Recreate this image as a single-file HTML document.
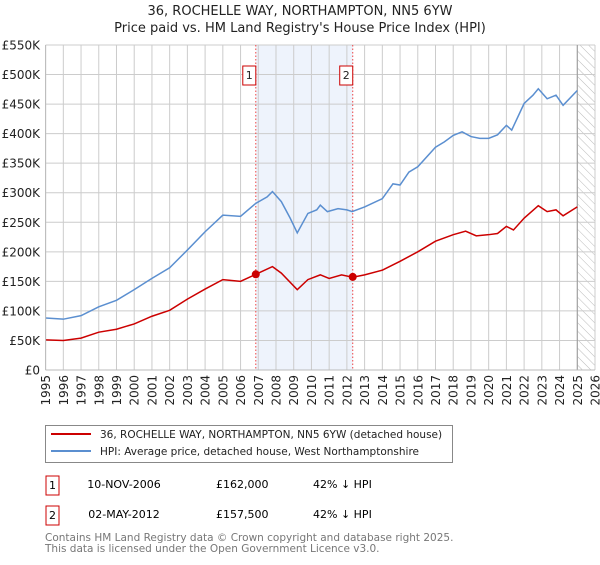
<!DOCTYPE html>
<html><head><meta charset="utf-8"><style>
body{margin:0;background:#fff;font-family:"Liberation Sans","DejaVu Sans",sans-serif}
svg text{font-family:"DejaVu Sans","Liberation Sans",sans-serif}
</style></head><body>
<svg id="chart" width="600" height="560" viewBox="0 0 600 560" xmlns="http://www.w3.org/2000/svg">
<defs><pattern id="hatch" width="6" height="6" patternUnits="userSpaceOnUse" patternTransform="rotate(-45)"><line x1="0" y1="0" x2="0" y2="6" stroke="#bbb" stroke-width="1"/></pattern></defs>
<text x="300" y="15" text-anchor="middle" font-size="13" fill="#222">36, ROCHELLE WAY, NORTHAMPTON, NN5 6YW</text>
<text x="300" y="32" text-anchor="middle" font-size="13" fill="#222">Price paid vs. HM Land Registry's House Price Index (HPI)</text>
<g id="grid"></g><g id="marks"></g><g id="axes"></g>
<g>
<rect x="45.5" y="425.5" width="407" height="37" fill="#fff" stroke="#888"/>
<line x1="51" y1="434" x2="91" y2="434" stroke="#cc0000" stroke-width="2"/>
<text x="100" y="438" font-size="10.5" fill="#222">36, ROCHELLE WAY, NORTHAMPTON, NN5 6YW (detached house)</text>
<line x1="51" y1="451" x2="91" y2="451" stroke="#5b8fd0" stroke-width="2"/>
<text x="100" y="455" font-size="10.5" fill="#222">HPI: Average price, detached house, West Northamptonshire</text>
</g>
<g>
<rect x="46" y="476" width="13" height="19" fill="#fff" stroke="#cc0000"/>
<text x="52.5" y="489" text-anchor="middle" font-size="11">1</text>
<text x="124" y="488" text-anchor="middle" font-size="11">10-NOV-2006</text>
<text x="216" y="488" font-size="11">£162,000</text>
<text x="313" y="488" font-size="11">42% ↓ HPI</text>
</g>
<g>
<rect x="46" y="506" width="13" height="19" fill="#fff" stroke="#cc0000"/>
<text x="52.5" y="519" text-anchor="middle" font-size="11">2</text>
<text x="124" y="518" text-anchor="middle" font-size="11">02-MAY-2012</text>
<text x="216" y="518" font-size="11">£157,500</text>
<text x="313" y="518" font-size="11">42% ↓ HPI</text>
</g>
<text x="45" y="541" font-size="10.5" fill="#777">Contains HM Land Registry data © Crown copyright and database right 2025.</text>
<text x="45" y="552" font-size="10.5" fill="#777">This data is licensed under the Open Government Licence v3.0.</text>
</svg>
<script>
const hpiYears=[1995,1996,1997,1998,1999,2000,2001,2002,2003,2004,2005,2006,2006.86,2007.5,2007.8,2008.3,2008.8,2009.2,2009.8,2010.3,2010.5,2010.9,2011.5,2012,2012.3,2013,2014,2014.6,2015,2015.5,2016,2017,2017.5,2018,2018.5,2019,2019.5,2020,2020.5,2021,2021.3,2022,2022.5,2022.8,2023.3,2023.8,2024.2,2025];
const hpiValues=[88,86,92,107,118,136,155,173,203,234,262,260,282,293,302,285,257,232,265,271,279,268,273,271,268,276,290,315,313,335,344,377,386,397,403,395,392,392,398,414,406,451,465,476,459,465,448,473];
const propYears=[1995,1996,1997,1998,1999,2000,2001,2002,2003,2004,2005,2006,2006.86,2007.8,2008.3,2009.2,2009.8,2010.5,2011,2011.7,2012.33,2013,2014,2015,2016,2017,2018,2018.7,2019.3,2020,2020.5,2021,2021.4,2022,2022.8,2023.3,2023.8,2024.2,2025];
const propValues=[51,50,54,64,69,78,91,101,120,137,153,150,162,175,164,136,153,161,155,161,157,161,169,184,200,218,229,235,227,229,231,243,237,257,278,268,271,261,276];
const saleYears=[2006.86,2012.33];
const saleValues=[162,157.5];
const saleLabels=["1","2"];
const yTicks=[0,50,100,150,200,250,300,350,400,450,500,550];
const yTickLabels=["£0","£50K","£100K","£150K","£200K","£250K","£300K","£350K","£400K","£450K","£500K","£550K"];
const xTicks=[1995,1996,1997,1998,1999,2000,2001,2002,2003,2004,2005,2006,2007,2008,2009,2010,2011,2012,2013,2014,2015,2016,2017,2018,2019,2020,2021,2022,2023,2024,2025,2026];
const X0=45.6,X1=595,Y0=370,Y1=45,xmin=1995,xmax=2026,ymax=550;
const sx=v=>X0+(v-xmin)/(xmax-xmin)*(X1-X0);
const sy=v=>Y0-v/ymax*(Y0-Y1);
const NS="http://www.w3.org/2000/svg";
function mk(tag,attrs,parent){const e=document.createElementNS(NS,tag);for(const k in attrs)e.setAttribute(k,attrs[k]);parent.appendChild(e);return e;}
const grid=document.getElementById('grid'),marks=document.getElementById('marks'),axes=document.getElementById('axes');
let sh=mk('rect',{x:sx(saleYears[0]),y:Y1,width:sx(saleYears[1])-sx(saleYears[0]),height:Y0-Y1,fill:'#eef3fc'},grid);


let ht=mk('rect',{x:sx(2025),y:Y1,width:X1-sx(2025),height:Y0-Y1,fill:'url(#hatch)'},grid);


yTicks.forEach((t,i)=>{
 mk('line',{x1:X0,x2:X1,y1:sy(t),y2:sy(t),stroke:'#ccc','stroke-width':1},grid);
 const tx=mk('text',{x:40,y:sy(t)+4.5,'text-anchor':'end','font-size':12,fill:'#222'},axes);
 tx.textContent=yTickLabels[i];
 
 
});
xTicks.forEach(t=>{
 mk('line',{x1:sx(t),x2:sx(t),y1:Y1,y2:Y0,stroke:'#ccc','stroke-width':1},grid);
 const tx=mk('text',{x:0,y:0,'text-anchor':'end','font-size':12,fill:'#222',transform:`translate(${sx(t)+4.5},${Y0+5}) rotate(-90)`},axes);
 tx.textContent=String(t);
 
 
});
mk('line',{x1:sx(2025),x2:sx(2025),y1:Y1,y2:Y0,stroke:'#999','stroke-width':1},grid);
mk('line',{x1:X0,x2:X1,y1:Y0,y2:Y0,stroke:'#bbb','stroke-width':1},axes);
mk('line',{x1:X0,x2:X0,y1:Y1,y2:Y0,stroke:'#bbb','stroke-width':1},axes);
saleYears.forEach((s,i)=>{
 const l=mk('line',{x1:sx(s),x2:sx(s),y1:Y1,y2:Y0,stroke:'#ee4444','stroke-width':1,'stroke-dasharray':'1.5,2'},marks);
 
 
});
let hp=mk('polyline',{points:hpiYears.map((y,i)=>sx(y)+','+sy(hpiValues[i])).join(' '),fill:'none',stroke:'#5b8fd0','stroke-width':1.5},marks);


let pp=mk('polyline',{points:propYears.map((y,i)=>sx(y)+','+sy(propValues[i])).join(' '),fill:'none',stroke:'#cc0000','stroke-width':1.5},marks);


saleYears.forEach((s,i)=>{
 const c=mk('circle',{cx:sx(s),cy:sy(saleValues[i]),r:4,fill:'#cc0000'},marks);
 
 
 const g=mk('g',{},marks);
 
 
 mk('rect',{x:sx(s)-13,y:66,width:13,height:19,fill:'#fff',stroke:'#cc0000'},g);
 const t=mk('text',{x:sx(s)-6.5,y:79,'text-anchor':'middle','font-size':11,fill:'#222'},g);
 t.textContent=saleLabels[i];
});
</script>
</body></html>
